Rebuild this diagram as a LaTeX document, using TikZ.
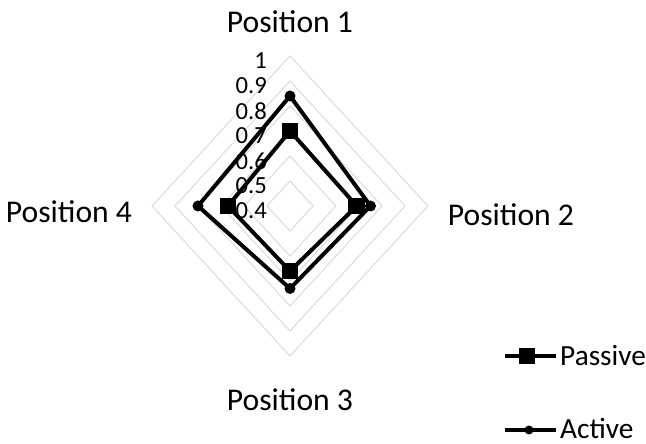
\documentclass[tikz,border=0pt]{standalone}
\usepackage{fontspec}
\setmainfont{Carlito}
\usetikzlibrary{positioning}
\tikzset{
  grid line/.style={line width=0.8pt, color=black!15},
  series/.style={line width=3.4pt, line join=round},
  sq mark/.style={fill=black, minimum size=0.5cm, inner sep=0pt},
  dot mark/.style={circle, fill=black, minimum size=0.33cm, inner sep=0pt},
  pos label/.style={font=\fontsize{27}{30}\selectfont},
  tick label/.style={font=\fontsize{21}{23}\selectfont, anchor=east, inner sep=0pt},
  legend label/.style={font=\fontsize{25}{28}\selectfont, inner sep=0pt},
}

\begin{document}
\begin{tikzpicture}[x=0.69cm, y=0.75cm]
\useasboundingbox (-8.7cm,-7.14cm) rectangle (10.68cm,6.18cm);
\foreach \r in {1,...,6}
  \draw[grid line] (0,\r) -- (\r,0) -- (0,-\r) -- (-\r,0) -- cycle;
\foreach \v [count=\r from 0] in {0.4,0.5,0.6,0.7,0.8,0.9,1}
  \node[tick label] (tick\r) at (-1,\r-0.2) {\v};

\coordinate (a1) at (0,4.4);
\coordinate (a2) at (3.5,0);
\coordinate (a3) at (0,-3.3);
\coordinate (a4) at (-4.0,0);
\coordinate (p1) at (0,3.0);
\coordinate (p2) at (2.9,0);
\coordinate (p3) at (0,-2.6);
\coordinate (p4) at (-2.7,0);
\draw[series] (a1) -- (a2) -- (a3) -- (a4) -- cycle;
\draw[series] (p1) -- (p2) -- (p3) -- (p4) -- cycle;
\foreach \i in {1,...,4} {
  \node[dot mark] (ma\i) at (a\i) {};
  \node[sq mark] (mp\i) at (p\i) {};
}

\node[pos label] (pos1) at (0cm,5.52cm) {Position 1};
\node[pos label] (pos2) at (6.63cm,-0.27cm) {Position 2};
\node[pos label] (pos3) at (0cm,-5.82cm) {Position 3};
\node[pos label] (pos4) at (-6.63cm,-0.18cm) {Position 4};

\coordinate (lpa) at (6.45cm,-4.5cm);
\coordinate (lpb) at (7.98cm,-4.5cm);
\draw[series] (lpa) -- (lpb);
\node[sq mark] (lpm) at (7.11cm,-4.5cm) {};
\node[legend label, right=0.12cm of lpb] (lpt) {Passive};
\coordinate (laa) at (6.45cm,-6.72cm);
\coordinate (lab) at (7.98cm,-6.72cm);
\draw[series] (laa) -- (lab);
\node[dot mark, minimum size=0.27cm] (lam) at (7.17cm,-6.72cm) {};
\node[legend label, right=0.12cm of lab, yshift=0.06cm] (lat) {Active};
\end{tikzpicture}
\end{document}
